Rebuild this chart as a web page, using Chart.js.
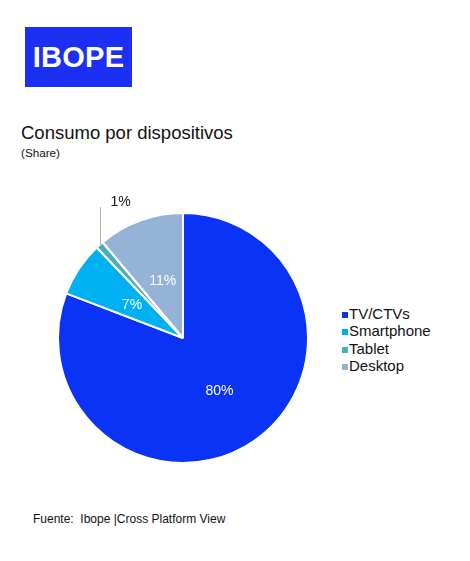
<!DOCTYPE html>
<html lang="es">
<head>
    <meta charset="UTF-8">
    <title>Consumo por dispositivos</title>
    <style>
        body {
            margin: 0;
            width: 470px;
            height: 561px;
            background: #ffffff;
            font-family: 'Liberation Sans', Arial, sans-serif;
            color: #111;
            position: relative;
            overflow: hidden;
        }
        .logo {
            position: absolute;
            left: 25px;
            top: 27px;
            width: 107px;
            height: 60px;
            background: #1b30f3;
            color: #fff;
            font-weight: bold;
            font-size: 29px;
            line-height: 60px;
            text-align: center;
            letter-spacing: 0.3px;
        }
        .title {
            position: absolute;
            left: 21px;
            top: 122px;
            font-size: 18.5px;
            line-height: 22px;
        }
        .sub {
            position: absolute;
            left: 21px;
            top: 146px;
            font-size: 11.7px;
        }
        .chart-box {
            position: absolute;
            left: 0;
            top: 180px;
            width: 320px;
            height: 291px;
        }
        .legend {
            position: absolute;
            left: 342px;
            top: 305px;
            font-size: 15px;
            line-height: 17.3px;
        }
        .legend span.box {
            display: inline-block;
            width: 6px;
            height: 6px;
            margin-right: 1px;
            vertical-align: 1px;
        }
        .footer {
            position: absolute;
            left: 33px;
            top: 512px;
            font-size: 12px;
            white-space: pre;
        }
    </style>
    <script src="https://cdn.jsdelivr.net/npm/chart.js"></script>
</head>
<body>
    <div class="logo">IBOPE</div>
    <div class="title">Consumo por dispositivos</div>
    <div class="sub">(Share)</div>
    <div class="chart-box"><canvas id="pieChart"></canvas></div>
    <div class="legend" id="legend"></div>
    <div class="footer">Fuente:  Ibope |Cross Platform View</div>

    <script>
        const labels = ['TV/CTVs', 'Smartphone', 'Tablet', 'Desktop'];
        const shares = [80, 7, 1, 11];
        const colors = ['#0a33f5', '#00b0f0', '#4bacc6', '#95b3d7'];

        // legend built from the same arrays
        const legend = document.getElementById('legend');
        labels.forEach((name, i) => {
            const row = document.createElement('div');
            row.innerHTML = '<span class="box" style="background:' + colors[i] + '"></span>' + name;
            legend.appendChild(row);
        });

        // percentage labels, small slices get a leader line
        const sliceLabels = {
            id: 'sliceLabels',
            afterDatasetsDraw(chart) {
                const ctx = chart.ctx;
                const arcs = chart.getDatasetMeta(0).data;
                ctx.save();
                ctx.font = '14px "Liberation Sans", Arial, sans-serif';
                ctx.textAlign = 'center';
                arcs.forEach((arc, i) => {
                    const text = shares[i] + '%';
                    if (shares[i] >= 5) {
                        const p = arc.tooltipPosition();
                        ctx.fillStyle = '#ffffff';
                        ctx.textBaseline = 'middle';
                        ctx.fillText(text, p.x + 1, p.y + 2);
                    } else {
                        const mid = (arc.startAngle + arc.endAngle) / 2;
                        const x = arc.x + Math.cos(mid) * arc.outerRadius;
                        const y = arc.y + Math.sin(mid) * arc.outerRadius;
                        const top = arc.y - arc.outerRadius - 6;
                        ctx.strokeStyle = '#b0b0b0';
                        ctx.lineWidth = 1;
                        ctx.beginPath();
                        ctx.moveTo(Math.round(x) + 0.5, y);
                        ctx.lineTo(Math.round(x) + 0.5, top);
                        ctx.stroke();
                        ctx.fillStyle = '#111';
                        ctx.textBaseline = 'alphabetic';
                        ctx.fillText(text, x + 21, top - 1);
                    }
                });
                ctx.restore();
            }
        };

        new Chart(document.getElementById('pieChart'), {
            type: 'pie',
            data: {
                labels: labels,
                datasets: [{
                    data: shares,
                    backgroundColor: colors,
                    borderColor: '#ffffff',
                    borderWidth: 2
                }]
            },
            options: {
                responsive: true,
                maintainAspectRatio: false,
                animation: false,
                layout: {
                    padding: { left: 57, right: 11, top: 32, bottom: 7 }
                },
                plugins: {
                    legend: { display: false },
                    tooltip: { enabled: false }
                }
            },
            plugins: [sliceLabels]
        });
    </script>
</body>
</html>
